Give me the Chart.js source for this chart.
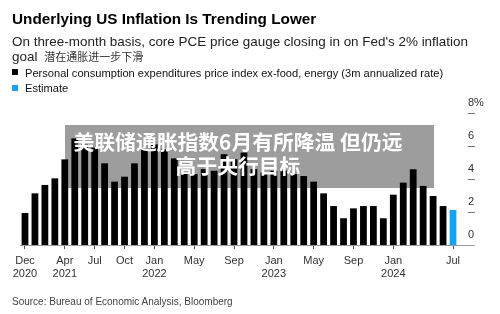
<!DOCTYPE html>
<html>
<head>
<meta charset="utf-8">
<script src="https://cdn.jsdelivr.net/npm/chart.js@4.4.1/dist/chart.umd.min.js"></script>
<style>
  body { margin: 0; background: #fff; }
  #wrap { position: relative; width: 500px; height: 314px; overflow: hidden; font-family: "Liberation Sans", Arial, sans-serif; }
  canvas { position: absolute; left: 0; top: 0; }
  .t { position: absolute; white-space: nowrap; line-height: 1; }
  .sq { position: absolute; width: 6px; height: 6px; }
</style>
</head>
<body>
<div id="wrap">
  <canvas id="chart" width="500" height="314"></canvas>
  <div class="t" style="left:12px;top:11px;font-weight:bold;font-size:15.3px;color:#000;">Underlying US Inflation Is Trending Lower</div>
  <div class="t" style="left:12px;top:34.6px;font-size:13.45px;color:#222;">On three-month basis, core PCE price gauge closing in on Fed's 2% inflation</div>
  <div class="t" style="left:12px;top:49.6px;font-size:13.45px;color:#222;">goal <span style="font-family:'Noto Sans CJK SC';font-size:11px;color:#333;margin-left:3px;">潜在通胀进一步下滑</span></div>
  <div class="sq" style="left:12px;top:69px;background:#000;"></div>
  <div class="t" style="left:25px;top:68px;font-size:11.1px;color:#111;">Personal consumption expenditures price index ex-food, energy (3m annualized rate)</div>
  <div class="sq" style="left:12px;top:85px;background:#16a2f2;"></div>
  <div class="t" style="left:25px;top:83px;font-size:11.1px;color:#111;">Estimate</div>
  <div class="t" style="left:12px;top:297px;font-size:10px;color:#444;">Source: Bureau of Economic Analysis, Bloomberg</div>
</div>
<script>
// monthly categories, Dec 2020 .. Jul 2024
const months = [
  'Dec 2020',
  'Jan 2021', 'Feb 2021', 'Mar 2021', 'Apr 2021', 'May 2021', 'Jun 2021',
  'Jul 2021', 'Aug 2021', 'Sep 2021', 'Oct 2021', 'Nov 2021', 'Dec 2021',
  'Jan 2022', 'Feb 2022', 'Mar 2022', 'Apr 2022', 'May 2022', 'Jun 2022',
  'Jul 2022', 'Aug 2022', 'Sep 2022', 'Oct 2022', 'Nov 2022', 'Dec 2022',
  'Jan 2023', 'Feb 2023', 'Mar 2023', 'Apr 2023', 'May 2023', 'Jun 2023',
  'Jul 2023', 'Aug 2023', 'Sep 2023', 'Oct 2023', 'Nov 2023', 'Dec 2023',
  'Jan 2024', 'Feb 2024', 'Mar 2024', 'Apr 2024', 'May 2024', 'Jun 2024',
  'Jul 2024'
];

// core PCE, 3m annualized, %
const pceValues = [
  1.94,
  3.13, 3.64, 4.04, 5.19, 6.46, 6.1, 5.9, 4.95, 3.84, 4.14, 4.95, 5.8,
  6.1, 5.8, 5.25, 4.3, 4.3, 4.6, 4.5, 5.5, 5.2, 5.6, 4.6, 4.4,
  4.5, 4.5, 4.3, 4.18, 3.84, 3.13, 2.36, 1.62, 2.22, 2.36, 2.36, 1.62,
  3.05, 3.78, 4.59, 3.58, 2.97, 2.36, null
];

const estimateMonth = 'Jul 2024';
const estimateValue = 2.12;

// x axis labels
const tickMonths = ['Dec 2020', 'Apr 2021', 'Jul 2021', 'Oct 2021', 'Jan 2022', 'May 2022', 'Sep 2022', 'Jan 2023', 'May 2023', 'Sep 2023', 'Jan 2024', 'Jul 2024'];
const tickText = ['Dec', 'Apr', 'Jul', 'Oct', 'Jan', 'May', 'Sep', 'Jan', 'May', 'Sep', 'Jan', 'Jul'];
const tickYears = ['2020', '2021', '', '', '2022', '', '', '2023', '', '', '2024', ''];

const yTicks = [0, 2, 4, 6, 8];

const overlayLines = ['美联储通胀指数6月有所降温 但仍远', '高于央行目标'];

const estimateData = months.map(m => (m === estimateMonth ? estimateValue : null));

const axisFont = { family: 'Liberation Sans', size: 11 };

const decorations = {
  id: 'decorations',
  beforeDatasetsDraw(chart) {
    const ctx = chart.ctx;
    const area = chart.chartArea;
    const y0 = Math.round(chart.scales.y.getPixelForValue(0)) + 0.5;
    ctx.save();
    // grey caption box behind bars
    ctx.fillStyle = '#9d9d9d';
    ctx.fillRect(65, 125, 369, 63);
    // baseline
    ctx.strokeStyle = '#9a9a9a';
    ctx.lineWidth = 1;
    ctx.beginPath();
    ctx.moveTo(area.left, y0);
    ctx.lineTo(area.right + 17, y0);
    ctx.stroke();
    // y tick dashes
    ctx.strokeStyle = '#777';
    yTicks.forEach(v => {
      if (v === 0) return;
      const y = Math.round(chart.scales.y.getPixelForValue(v)) + 0.5;
      ctx.beginPath();
      ctx.moveTo(area.right + 10, y);
      ctx.lineTo(area.right + 17, y);
      ctx.stroke();
    });
    ctx.restore();
  },
  afterDatasetsDraw(chart) {
    const ctx = chart.ctx;
    ctx.save();
    ctx.fillStyle = '#fff';
    ctx.font = 'bold 20.8px "Noto Sans CJK SC"';
    ctx.textAlign = 'center';
    ctx.textBaseline = 'middle';
    ctx.fillText(overlayLines[0], 238, 142);
    ctx.fillText(overlayLines[1], 238, 166);
    ctx.restore();
  }
};

new Chart(document.getElementById('chart'), {
  type: 'bar',
  data: {
    labels: months,
    datasets: [
      { label: 'PCE', data: pceValues, backgroundColor: '#000', barPercentage: 0.68, categoryPercentage: 1 },
      { label: 'Estimate', data: estimateData, backgroundColor: '#16a2f2', barPercentage: 0.68, categoryPercentage: 1 }
    ]
  },
  options: {
    responsive: false,
    devicePixelRatio: 1,
    animation: false,
    layout: { padding: { left: 20, top: 113, right: 0, bottom: 0 } },
    plugins: { legend: { display: false }, tooltip: { enabled: false } },
    scales: {
      x: {
        stacked: true,
        border: { display: false },
        grid: { drawOnChartArea: false, drawTicks: true, tickLength: 4, color: '#555', offset: false },
        ticks: {
          autoSkip: false,
          maxRotation: 0,
          padding: 5,
          color: '#333',
          font: axisFont,
          callback: function (value, index) {
            const k = tickMonths.indexOf(months[index]);
            if (k < 0) return null;
            return tickYears[k] ? [tickText[k], tickYears[k]] : tickText[k];
          }
        },
        afterFit: s => { s.height = 69; }
      },
      y: {
        position: 'right',
        stacked: true,
        min: 0,
        max: 8,
        border: { display: false },
        grid: { display: false, drawTicks: false },
        ticks: {
          stepSize: 2,
          padding: 10,
          labelOffset: -10,
          color: '#333',
          font: axisFont,
          callback: v => (v === 8 ? '8%' : v)
        },
        afterFit: s => { s.width = 42; }
      }
    }
  },
  plugins: [decorations]
});
</script>
</body>
</html>
